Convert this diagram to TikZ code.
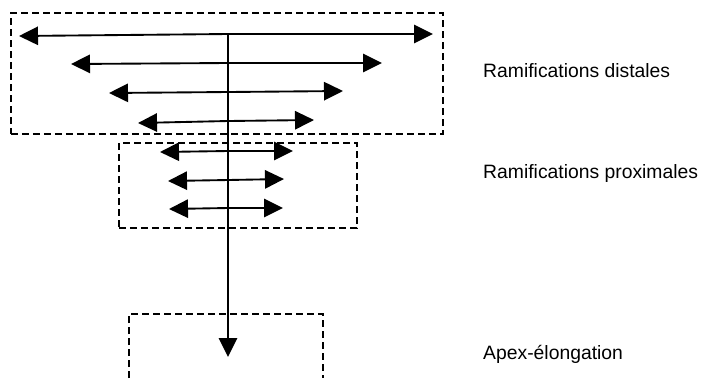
\documentclass[tikz,border=0pt]{standalone}
\usepackage{fontspec}
\setmainfont{Liberation Sans}
\usetikzlibrary{arrows.meta}

\begin{document}
\begin{tikzpicture}[
            x=0.03cm, y=-0.03cm,
            zoneBox/.style={draw=black, line width=1pt, dash pattern=on 0.21cm off 0.12cm,
            inner sep=0pt},
            zoneLabel/.style={anchor=west, inner sep=0pt, font=\fontsize{16.5}{20}\selectfont},
            branch/.style={line width=1.6pt, -{Triangle[length=0.57cm, width=0.55cm]}},
        ]
        \useasboundingbox (0,0) rectangle (704,378);
        % dashed zones
        \node[zoneBox, minimum width=12.96cm, minimum height=3.63cm] (distalZone) at (227,73.5) {};
        \node[zoneBox, minimum width=7.14cm, minimum height=2.55cm] (proxZone) at (238,185.5) {};
        \coordinate (apexTL) at (129,314);
        \coordinate (apexTR) at (323,314);
        \draw[zoneBox] (apexTL |- 0,378) -- (apexTL) -- (apexTR) -- (apexTR |- 0,378);
        % main axis
        \coordinate (stemTop) at (228,33);
        \coordinate (stemTip) at (228,357);
        \draw[branch] (stemTop) -- (stemTip);
        % distal branches
        \coordinate (d1) at (228,34);  \coordinate (d1L) at (19,36);   \coordinate (d1R) at (433,34);
        \coordinate (d2) at (228,63);  \coordinate (d2L) at (71,64);   \coordinate (d2R) at (382,63);
        \coordinate (d3) at (228,92);  \coordinate (d3L) at (109,93);  \coordinate (d3R) at (343,91);
        \coordinate (d4) at (228,121); \coordinate (d4L) at (138,123); \coordinate (d4R) at (314,120);
        \draw[branch] (d1) -- (d1L);
        \draw[branch] (d1) -- (d1R);
        \draw[branch] (d2) -- (d2L);
        \draw[branch] (d2) -- (d2R);
        \draw[branch] (d3) -- (d3L);
        \draw[branch] (d3) -- (d3R);
        \draw[branch] (d4) -- (d4L);
        \draw[branch] (d4) -- (d4R);
        % proximal branches
        \coordinate (p1) at (228,151); \coordinate (p1L) at (160,152); \coordinate (p1R) at (293,151);
        \coordinate (p2) at (228,180); \coordinate (p2L) at (168,181); \coordinate (p2R) at (284,179);
        \coordinate (p3) at (228,208); \coordinate (p3L) at (169,209); \coordinate (p3R) at (283,208);
        \draw[branch] (p1) -- (p1L);
        \draw[branch] (p1) -- (p1R);
        \draw[branch] (p2) -- (p2L);
        \draw[branch] (p2) -- (p2R);
        \draw[branch] (p3) -- (p3L);
        \draw[branch] (p3) -- (p3R);
        % labels
        \node[zoneLabel] (distalText) at (483,71)  {Ramifications distales};
        \node[zoneLabel] (proxText)   at (483,173) {Ramifications proximales};
        \node[zoneLabel] (apexText)   at (483,354) {Apex-élongation};
    \end{tikzpicture}
\end{document}
